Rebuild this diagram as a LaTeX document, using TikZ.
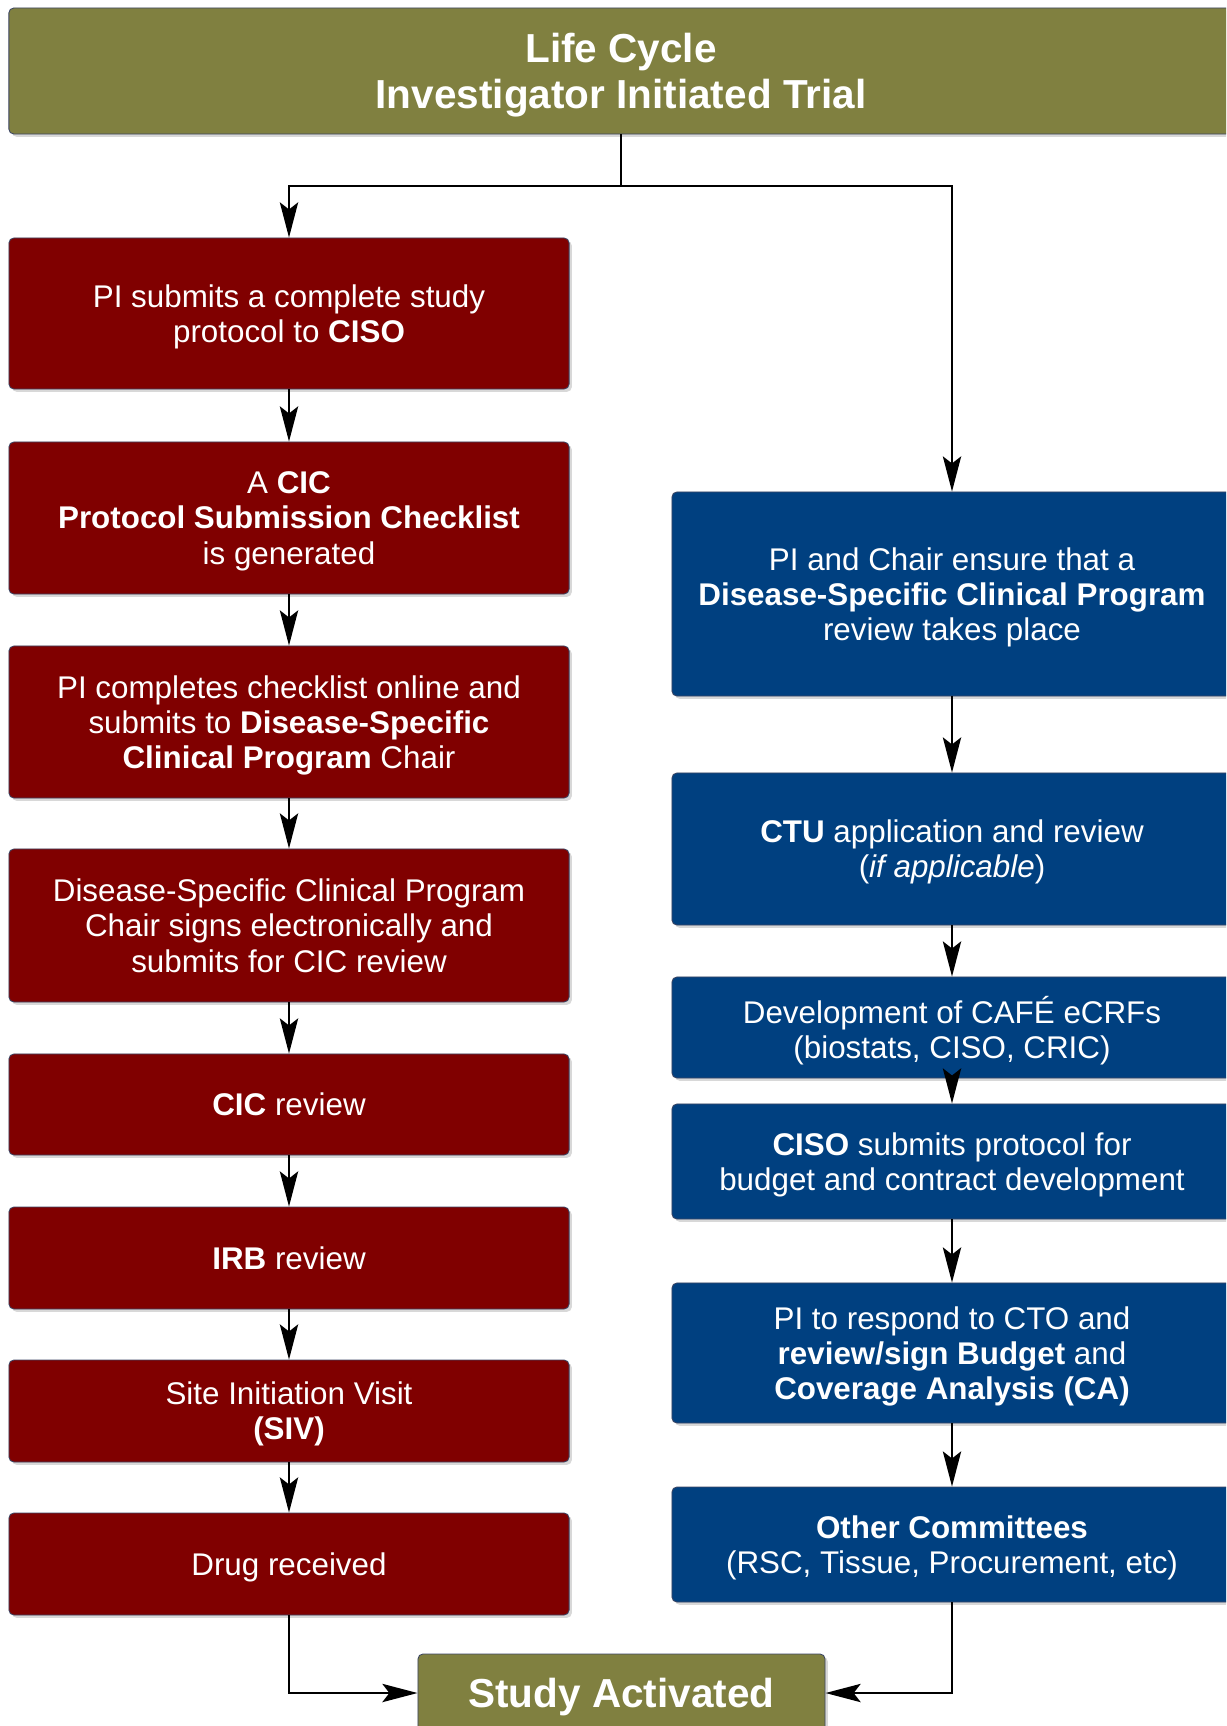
\documentclass[tikz,border=0pt]{standalone}
\usepackage{fontspec}
\setmainfont{Liberation Sans}
\usetikzlibrary{arrows.meta,shadows}

\definecolor{olivebox}{RGB}{128,128,64}
\definecolor{redbox}{RGB}{128,0,0}
\definecolor{bluebox}{RGB}{0,64,128}
\definecolor{edgeline}{RGB}{60,70,100}

\begin{document}
\begin{tikzpicture}[x=0.025cm,y=-0.025cm,
    box/.style={draw=edgeline, line width=0.6pt, rounded corners=3.5pt, text=white,
        align=center, minimum width=14cm, inner sep=0pt, text depth=0pt,
        font=\fontsize{22.3}{25}\selectfont,
        drop shadow={opacity=0.3, shadow xshift=2pt, shadow yshift=-2pt}},
    redstep/.style={box, fill=redbox},
    bluestep/.style={box, fill=bluebox},
    header/.style={box, fill=olivebox, font=\bfseries\fontsize{28.8}{33}\selectfont},
    arr/.style={-{Stealth[length=25pt,width=13pt,inset=5pt]}, line width=1.6pt}]

        \useasboundingbox (0,0) rectangle (1226,1726);
        \fill[white] (0,0) rectangle (1226,1726);
        \clip (0,0) rectangle (1226,1726);

        % header
        \node[header, minimum width=30.6cm, minimum height=3.15cm] (title) at (621,71)
            {Life Cycle\\Investigator Initiated Trial};

        % left column

        \node[redstep, minimum height=3.775cm] (submit) at (289,313.5)
            {PI submits a complete study\\protocol to \textbf{CISO}};
        \node[redstep, minimum height=3.8cm] (checklist) at (289,518)
            {A \textbf{CIC}\\\textbf{Protocol Submission Checklist}\\is generated};
        \node[redstep, minimum height=3.8cm] (online) at (289,722)
            {PI completes checklist online and\\submits to \textbf{Disease-Specific}\\\textbf{Clinical Program} Chair};
        \node[redstep, minimum height=3.825cm] (chair) at (289,925.5)
            {Disease-Specific Clinical Program\\Chair signs electronically and\\submits for CIC review};
        \node[redstep, minimum height=2.525cm] (cic) at (289,1104.5) {\textbf{CIC} review};
        \node[redstep, minimum height=2.55cm] (irb) at (289,1258) {\textbf{IRB} review};
        \node[redstep, minimum height=2.55cm] (siv) at (289,1411)
            {Site Initiation Visit\\\textbf{(SIV)}};
        \node[redstep, minimum height=2.55cm] (drug) at (289,1564) {Drug received};

        % right column

        \node[bluestep, minimum height=5.1cm] (dscp) at (952,594)
            {PI and Chair ensure that a\\\textbf{Disease-Specific Clinical Program}\\review takes place};
        \node[bluestep, minimum height=3.8cm] (ctu) at (952,849)
            {\textbf{CTU} application and review\\(\textit{if applicable})};
        \node[bluestep, minimum height=2.525cm] (cafe) at (952,1027.5)
            {Development of CAFÉ eCRFs\\(biostats, CISO, CRIC)};
        \node[bluestep, minimum height=2.875cm] (budget) at (952,1161.5)
            {\textbf{CISO} submits protocol for\\budget and contract development};
        \node[bluestep, minimum height=3.5cm] (cto) at (952,1353)
            {PI to respond to CTO and\\\textbf{review/sign Budget} and\\\textbf{Coverage Analysis (CA)}};
        \node[bluestep, minimum height=2.875cm] (other) at (952,1544.5)
            {\textbf{Other Committees}\\(RSC, Tissue, Procurement, etc)};

        % end
        \node[header, minimum width=10.175cm, minimum height=1.95cm] (active) at (621.5,1693)
            {Study Activated};

        % connectors
        \coordinate (split) at (621,186);
        \draw[line width=1.6pt] (title.south) -- (split);
        \draw[arr] (split) -| (submit.north);
        \draw[arr] (split) -| (dscp.north);

        \draw[arr] (submit) -- (checklist);
        \draw[arr] (checklist) -- (online);
        \draw[arr] (online) -- (chair);
        \draw[arr] (chair) -- (cic);
        \draw[arr] (cic) -- (irb);
        \draw[arr] (irb) -- (siv);
        \draw[arr] (siv) -- (drug);

        \draw[arr] (dscp) -- (ctu);
        \draw[arr] (ctu) -- (cafe);
        \draw[arr] (cafe) -- (budget);
        \draw[arr] (budget) -- (cto);
        \draw[arr] (cto) -- (other);

        \draw[arr] (drug.south) |- (active.west);
        \draw[arr] (other.south) |- (active.east);

    \end{tikzpicture}
\end{document}
